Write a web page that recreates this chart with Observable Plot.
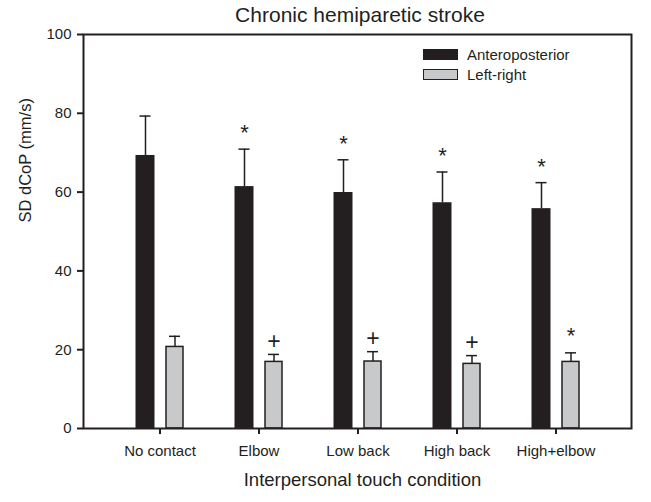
<!DOCTYPE html>
<html>
<head>
<meta charset="utf-8">
<script src="https://cdn.jsdelivr.net/npm/d3@7"></script>
<script src="https://cdn.jsdelivr.net/npm/@observablehq/plot@0.6"></script>
<style>
  body { margin: 0; background: #fff; }
  #wrap { position: relative; width: 651px; height: 502px; font-family: "Liberation Sans", Arial, Helvetica, sans-serif; color: #231f20; }
  #title { height: 20px; padding-top: 5px; line-height: 20px; font-size: 21px; text-align: center; padding-left: 69px; white-space: nowrap; }
  .sw { position: absolute; left: 423px; width: 35px; height: 11px; box-sizing: border-box; }
  .lt { position: absolute; left: 467px; font-size: 15px; line-height: 18px; }
</style>
</head>
<body>
<div id="wrap">
  <div id="title">Chronic hemiparetic stroke</div>
  <div id="chart"></div>
  <div class="sw" style="top:49px; background:#231f20;"></div>
  <div class="lt" style="top:46px;">Anteroposterior</div>
  <div class="sw" style="top:69px; background:#c8c9cb; border:1.5px solid #231f20;"></div>
  <div class="lt" style="top:65.5px;">Left-right</div>
</div>
<script>
const categories = ["No contact", "Elbow", "Low back", "High back", "High+elbow"];
const apMean = [69.3, 61.4, 59.9, 57.3, 55.8];
const apSD   = [10.0, 9.5, 8.3, 7.8, 6.6];
const apMark = ["", "*", "*", "*", "*"];
const lrMean = [20.7, 16.9, 17.0, 16.4, 16.9];
const lrSD   = [2.7, 1.9, 2.5, 2.1, 2.3];
const lrMark = ["", "+", "+", "+", "*"];
const yTicks = [0, 20, 40, 60, 80, 100];

const ink = "#231f20";
const ap = categories.map((c, i) => ({cat: c, mean: apMean[i], top: apMean[i] + apSD[i], mark: apMark[i]}));
const lr = categories.map((c, i) => ({cat: c, mean: lrMean[i], top: lrMean[i] + lrSD[i], mark: lrMark[i]}));

const chart = Plot.plot({
  width: 651,
  height: 477,
  marginTop: 9,
  marginBottom: 74,
  marginLeft: 83,
  marginRight: 20,
  style: {fontFamily: "Liberation Sans, Arial, Helvetica, sans-serif", color: ink, background: "#fff", overflow: "visible"},
  x: {domain: categories, paddingInner: 0.809, paddingOuter: 0.6546, label: null},
  y: {domain: [0, 100], label: null},
  marks: [
    Plot.barY(ap, {x: "cat", y: "mean", fill: ink, dx: -14.5}),
    Plot.ruleX(ap, {x: "cat", y1: "mean", y2: "top", dx: -14.5, stroke: ink, strokeWidth: 1.5}),
    Plot.tickY(ap, {x: "cat", y: "top", dx: -14.5, insetLeft: 4, insetRight: 4, stroke: ink, strokeWidth: 1.5}),
    Plot.ruleX(lr, {x: "cat", y1: "mean", y2: "top", dx: 15, stroke: ink, strokeWidth: 1.5}),
    Plot.tickY(lr, {x: "cat", y: "top", dx: 15, insetLeft: 4, insetRight: 4, stroke: ink, strokeWidth: 1.5}),
    Plot.barY(lr, {x: "cat", y: "mean", fill: "#c8c9cb", stroke: ink, strokeWidth: 1.5, insetLeft: 1, insetRight: 1, dx: 15}),
    Plot.frame({stroke: ink, strokeWidth: 2}),
    Plot.axisY({ticks: yTicks, tickSize: 6, tickPadding: 6, fontSize: 15, strokeWidth: 2, stroke: ink, fill: ink, label: null}),
    Plot.axisX({tickSize: 6, tickPadding: 11, fontSize: 15, strokeWidth: 2, stroke: ink, fill: ink, label: null}),
    Plot.text(ap.filter(d => d.mark === "*"), {x: "cat", y: "top", text: "mark", dx: -14.5, dy: -16, fontSize: 22, fill: ink}),
    Plot.text(lr.filter(d => d.mark === "*"), {x: "cat", y: "top", text: "mark", dx: 15, dy: -17, fontSize: 22, fill: ink}),
    Plot.text(lr.filter(d => d.mark === "+"), {x: "cat", y: "top", text: "mark", dx: 15, dy: -13, fontSize: 23, fill: ink}),
    Plot.text(["SD dCoP (mm/s)"], {frameAnchor: "left", rotate: -90, dx: -58, dy: -9, fontSize: 16.5, fill: ink}),
    Plot.text(["Interpersonal touch condition"], {frameAnchor: "bottom", dx: 5, dy: 57, fontSize: 18.5, fill: ink})
  ]
});
document.getElementById("chart").appendChild(chart);
</script>
</body>
</html>
